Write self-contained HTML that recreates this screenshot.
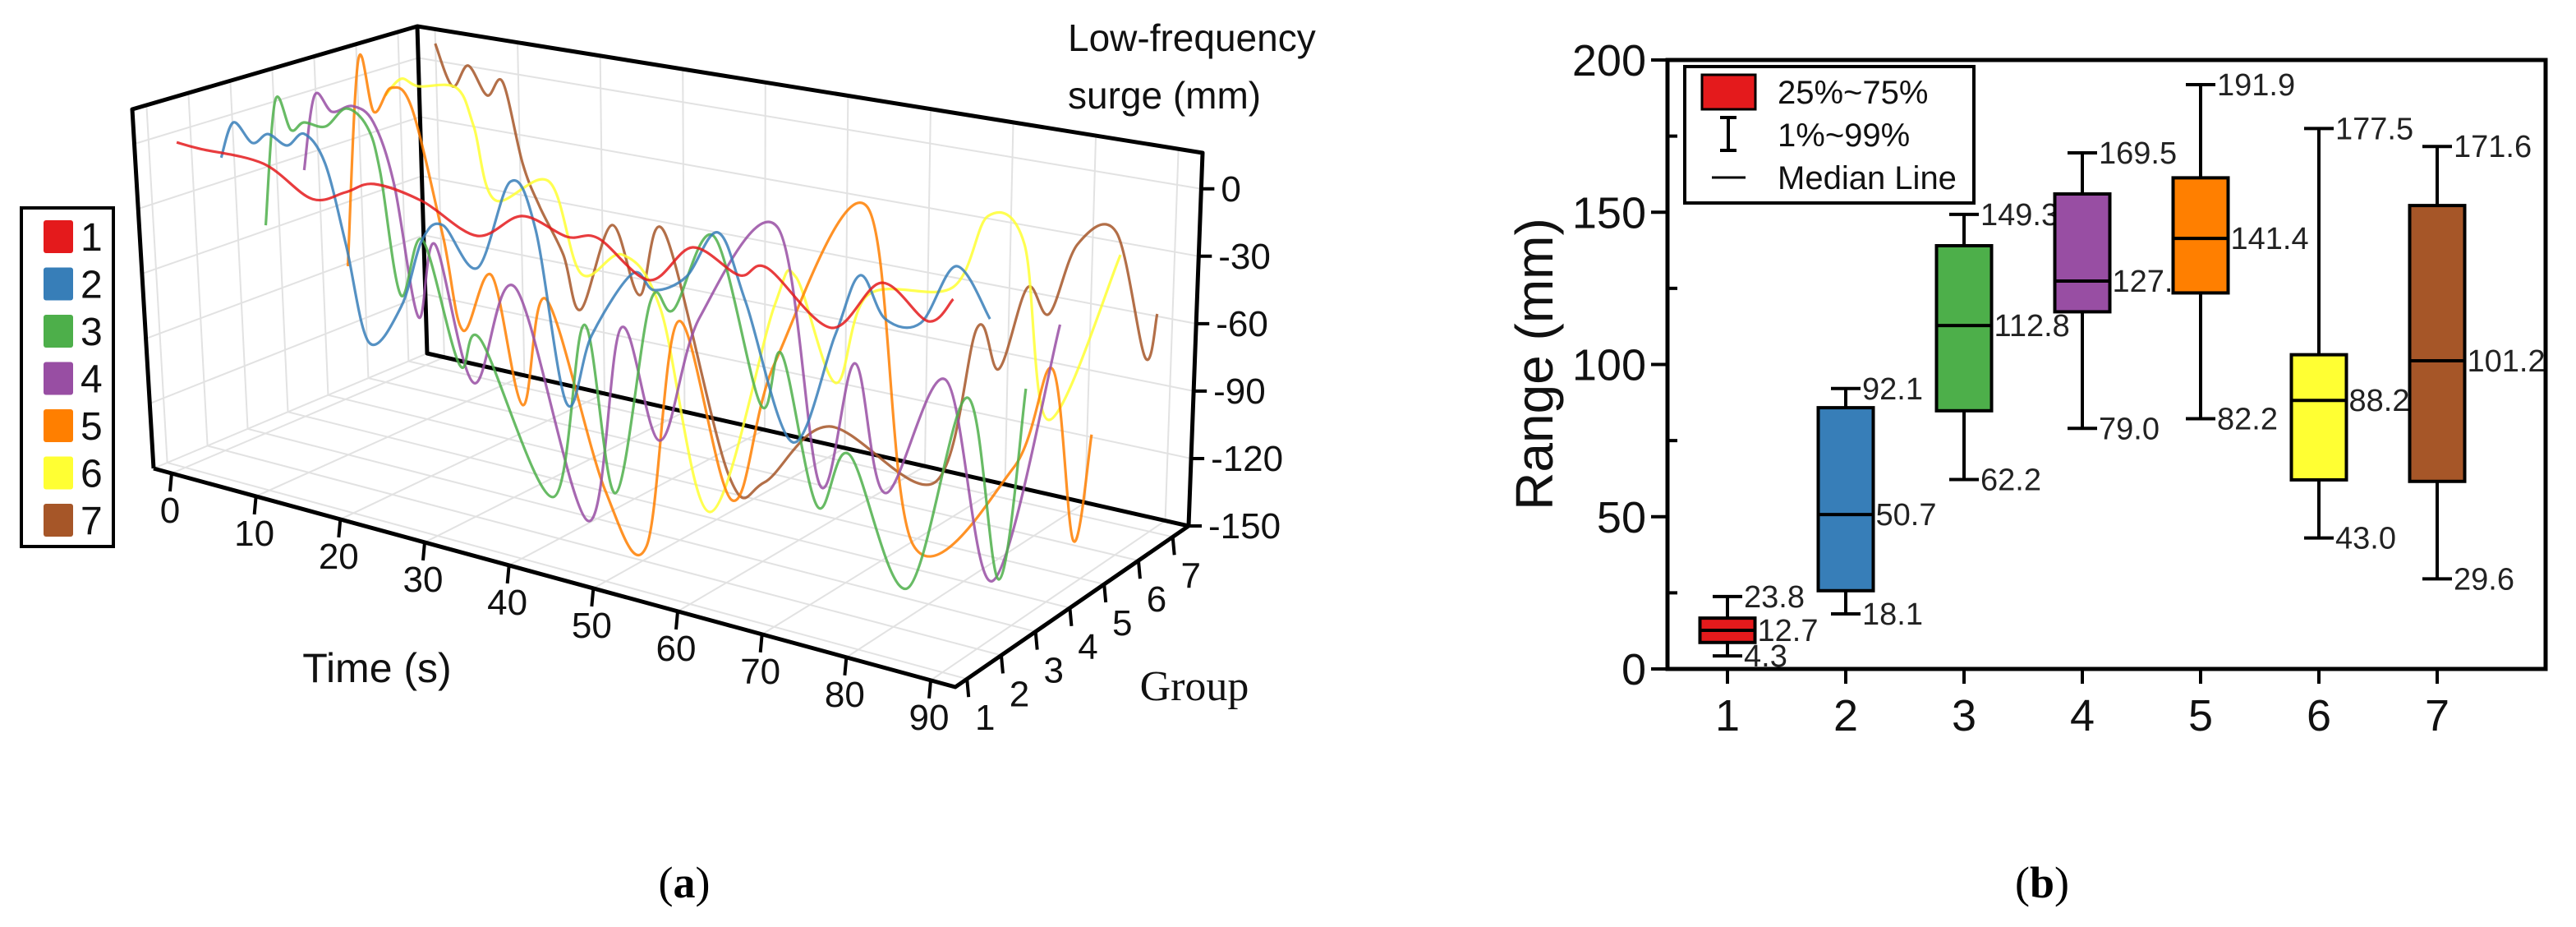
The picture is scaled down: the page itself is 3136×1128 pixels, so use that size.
<!DOCTYPE html>
<html><head><meta charset="utf-8">
<style>
html,body{margin:0;padding:0;background:#fff;}
svg{display:block;font-family:"Liberation Sans",sans-serif;}
</style></head>
<body>
<svg id="fig" width="3136" height="1128" viewBox="0 0 3136 1128" xmlns="http://www.w3.org/2000/svg">
<g id="panelA"></g>
<g id="panelB"></g>
<text x="833" y="1092" font-family="Liberation Serif,serif" font-size="54" text-anchor="middle">(<tspan font-weight="bold">a</tspan>)</text>
<text x="2486" y="1092" font-family="Liberation Serif,serif" font-size="54" text-anchor="middle">(<tspan font-weight="bold">b</tspan>)</text>
</svg>
<script>
// ===== Panel (a) data: time (s) and low-frequency surge (mm) per group =====
const times1=[0.1,2.8,10.1,15.7,19.6,22.9,28.5,34.8,40.0,45.2,48.8,54.7,59.7,65.1,68.3,75.7,81.5,86.9,89.8];
const vals1=[0,-0.7,-1.4,-12.5,-6.5,-0.2,-3.4,-13.6,-0.7,-5.7,-3.5,-17.3,1.2,-6.8,-1,-21.6,3,-9.7,2.4];
const times2=[0.5,1.9,4.1,5.9,8.1,10.1,12.5,14.9,17.6,21.3,23.7,26.1,30.1,33.9,36.8,40.4,43.3,48.0,50.5,54.2,57.9,61.1,66.5,71.4,74.3,77.2,81.3,85.4,89.3];
const vals2=[-10.1,6.6,-0.7,4.7,1.4,8.1,-3.1,-36.8,-78.3,-59.3,-28,-19.5,-35.2,6,-12.7,-86.9,-54.4,-23.4,-28.7,-19.9,2.7,-25.7,-83.2,-32,-3.1,-20.1,-18.6,9.8,-10.4];
const times3=[0.9,2,3.8,5.3,7.8,10.2,12.6,14.1,16.5,19,23.3,25.7,34.1,37.7,41.3,45.3,48,52.7,58.1,60.5,64.6,68.3,75,81.9,85.6,88.7];
const vals3=[-43.3,12.9,1.2,5.7,5.9,15.8,9.7,-8.7,-61.7,-35.3,-87.2,-74,-137,-57.9,-129.5,-41.9,-43,-6.9,-77.2,-52.7,-116.7,-90.8,-144.7,-54.8,-132.3,-45.4];
const times4=[0.6,1.8,3.8,6.2,8.6,11,13.8,15.7,20.2,25,33.4,37.2,41.7,46.3,55.3,60.2,64.2,67.7,74.7,80.1,87.9];
const vals4=[-22.8,11.3,5.6,10,4.7,-21,-77.3,-43.5,-101.3,-55.3,-151.8,-63.3,-109.6,-51.3,-4.5,-114.8,-57.4,-112,-56.3,-141,-21.3];
const times5=[0.9,2.1,3.9,5.9,8.3,11.9,14.2,17.5,21.1,23.8,30.6,35.4,39.1,45.3,50.2,60.9,66.2,77.8,82.3,84.7,86.8];
const vals5=[-68.7,23.5,2,14.2,7,-46.8,-86.5,-59.5,-114,-65,-143.9,-165,-62.5,-136.8,-72.2,5.5,-139.8,-96.3,-49.1,-123.2,-74.5];
const times6=[0.5,2.3,4.3,8.7,10.7,13.1,19.4,23.1,27.9,32.3,38,45.4,47.9,52.5,56.2,66,70.1,74.3,77.1,85.4];
const vals6=[2.9,11.7,10,12.8,-2.7,-33.2,-20.1,-57.9,-45.7,-66.5,-151.4,-54.6,-39.5,-82.7,-40.9,-29.7,5.2,-3.8,-79.4,0.3];
const times7=[1.5,3.5,5.3,7.5,9.3,11.6,13.6,16.3,18.3,21.9,25.1,28,35.4,39.5,47,59.2,64.1,66.6,69.9,72.4,75.7,80.2,83.5,84.9];
const vals7=[23,5.7,16.3,4.9,12.2,-22,-39.7,-58.6,-81.3,-41,-69.4,-39.4,-140.8,-140.8,-110,-125,-52.7,-68.9,-30.3,-39.9,-6.4,2.3,-50.3,-29.9];
const groupColors=["#e41a1c","#377eb8","#4daf4a","#984ea3","#ff7f00","#ffff33","#a65628"];
const timeTicks=[0,10,20,30,40,50,60,70,80,90];
const groupTicks=[1,2,3,4,5,6,7];
const surgeTicks=[0,-30,-60,-90,-120,-150];

// ===== Panel (b) data =====
const boxCats=[1,2,3,4,5,6,7];
const boxQ1=[8.7,25.7,84.8,117.3,123.5,62.1,61.6];
const boxQ3=[16.7,85.8,139.0,156.0,161.3,103.2,152.2];
const boxMed=[12.7,50.7,112.8,127.4,141.4,88.2,101.2];
const boxLo=[4.3,18.1,62.2,79.0,82.2,43.0,29.6];
const boxHi=[23.8,92.1,149.3,169.5,191.9,177.5,171.6];
const boxYTicks=[0,50,100,150,200];

const NS="http://www.w3.org/2000/svg";
function mk(parent,tag,attrs,text){const e=document.createElementNS(NS,tag);for(const k in attrs)e.setAttribute(k,attrs[k]);if(text!==undefined)e.textContent=text;parent.appendChild(e);return e;}

// ----- Panel A geometry -----
const A=document.getElementById('panelA');
const F0=[187,570],F1=[1163,836],B1=[1447,640],B0=[520,430];
const TL=[161,133],BTL=[508,32],BTR=[1464,186];
function lerp(p,q,f){return [p[0]+(q[0]-p[0])*f,p[1]+(q[1]-p[1])*f];}
function floorPt(u,v){return lerp(lerp(F0,F1,u),lerp(B0,B1,u),v);}
function backPt(u,h){return lerp(lerp(B0,B1,u),lerp(BTL,BTR,u),h);}
function leftPt(v,h){return lerp(lerp(F0,B0,v),lerp(TL,BTL,v),h);}
function tU(t){return 0.0225+t*0.01052;}
function gV(g){return 0.05+(g-1)*0.147;}
function zH(z){return (z+150)/166;}
const grid=mk(A,'g',{stroke:'#e2e2e2','stroke-width':2,fill:'none'});


timeTicks.forEach(t=>{const u=tU(t);
  let a=floorPt(u,0),b=floorPt(u,1),c=backPt(u,1);
  mk(grid,'polyline',{points:a+' '+b+' '+c});});
groupTicks.forEach(g=>{const v=gV(g);
  let a=floorPt(1,v),b=floorPt(0,v),c=leftPt(v,1);
  mk(grid,'polyline',{points:a+' '+b+' '+c});});
surgeTicks.forEach(z=>{const h=zH(z);
  let a=leftPt(0,h),b=leftPt(1,h),c=backPt(1,h);
  mk(grid,'polyline',{points:a+' '+b+' '+c});});
// box edges
const edges=mk(A,'g',{stroke:'#000','stroke-width':5,fill:'none','stroke-linejoin':'round'});


mk(edges,'polyline',{points:[F0,TL,BTL,BTR,[1447,640]].join(' ')});
mk(edges,'polyline',{points:[BTL,B0,B1].join(' ')});
mk(edges,'polyline',{points:[F0,F1,B1].join(' ')});

// series
function proj(t,g,z){return [214+10.54*t+50*(g-1),173-10*(g-1)+2.2*t-2.75*z];}
function smooth(pts){let d='M'+pts[0][0].toFixed(1)+','+pts[0][1].toFixed(1);
  for(let i=0;i<pts.length-1;i++){const p0=pts[i-1]||pts[i],p1=pts[i],p2=pts[i+1],p3=pts[i+2]||p2;
    const c1=[p1[0]+(p2[0]-p0[0])/6,p1[1]+(p2[1]-p0[1])/6],c2=[p2[0]-(p3[0]-p1[0])/6,p2[1]-(p3[1]-p1[1])/6];
    d+=' C'+c1[0].toFixed(1)+','+c1[1].toFixed(1)+' '+c2[0].toFixed(1)+','+c2[1].toFixed(1)+' '+p2[0].toFixed(1)+','+p2[1].toFixed(1);}
  return d;}
const allT=[times1,times2,times3,times4,times5,times6,times7];
const allV=[vals1,vals2,vals3,vals4,vals5,vals6,vals7];
for(let s=6;s>=0;s--){
  const pts=allT[s].map((t,i)=>proj(t,s+1,allV[s][i]));
  const p=mk(A,'path',{d:smooth(pts),fill:'none',stroke:groupColors[s],'stroke-width':3.2,'stroke-opacity':0.85});
  
  
}
// time axis ticks
const tax=mk(A,'g',{'font-size':44,fill:'#111'});


timeTicks.forEach(t=>{const p=floorPt(tU(t),0);
  mk(tax,'line',{x1:p[0],y1:p[1],x2:p[0]-2,y2:p[1]+22,stroke:'#000','stroke-width':4});
  const l=mk(tax,'text',{x:p[0]-2,y:p[1]+60,'text-anchor':'middle'},String(t));
  
  });
const tt=mk(A,'text',{x:459,y:830,'font-size':50,'text-anchor':'middle',fill:'#111'},'Time (s)');


// group axis
const gax=mk(A,'g',{'font-size':44,fill:'#111'});


groupTicks.forEach(g=>{const p=floorPt(1,gV(g));
  mk(gax,'line',{x1:p[0],y1:p[1],x2:p[0]+2,y2:p[1]+22,stroke:'#000','stroke-width':4});
  const l=mk(gax,'text',{x:p[0]+22,y:p[1]+62,'text-anchor':'middle'},String(g));
  
  });
const gt=mk(A,'text',{x:1454,y:852,'font-size':52,'text-anchor':'middle','font-family':'Liberation Serif,serif',fill:'#111'},'Group');


// surge axis
const zax=mk(A,'g',{'font-size':44,fill:'#111'});


surgeTicks.forEach(z=>{const p=backPt(1,zH(z));
  mk(zax,'line',{x1:p[0],y1:p[1],x2:p[0]+16,y2:p[1],stroke:'#000','stroke-width':4});
  const l=mk(zax,'text',{x:p[0]+24,y:p[1]+15},String(z));
  
  });
const zt1=mk(A,'text',{x:1300,y:62,'font-size':46,fill:'#111'},'Low-frequency');


const zt2=mk(A,'text',{x:1300,y:132,'font-size':46,fill:'#111'},'surge (mm)');


// legend
const lg=mk(A,'g',{});


mk(lg,'rect',{x:26,y:253,width:112,height:412,fill:'#fff',stroke:'#000','stroke-width':4});
groupTicks.forEach((g,i)=>{const y=288+i*57.5;
  const sw=mk(lg,'rect',{x:53,y:y-20,width:36,height:40,fill:groupColors[i],rx:3});
  
  
  const l=mk(lg,'text',{x:98,y:y+17,'font-size':48,fill:'#111'},String(g));
  
  });

// ----- Panel B -----
const B=document.getElementById('panelB');
const L=2030,R=3099,T=73,BOT=814;
function bx(c){return 2103+(c-1)*144;}
function by(v){return BOT-v*3.705;}
const fr=mk(B,'rect',{x:L,y:T,width:R-L,height:BOT-T,fill:'none',stroke:'#000','stroke-width':5});


const yax=mk(B,'g',{'font-size':54,fill:'#111'});


boxYTicks.forEach(v=>{mk(yax,'line',{x1:L-20,y1:by(v),x2:L,y2:by(v),stroke:'#000','stroke-width':4});
  const l=mk(yax,'text',{x:L-26,y:by(v)+19,'text-anchor':'end'},String(v));
  
  });
for(let i=0;i<boxYTicks.length-1;i++){const v=(boxYTicks[i]+boxYTicks[i+1])/2;
  mk(yax,'line',{x1:L,y1:by(v),x2:L+12,y2:by(v),stroke:'#000','stroke-width':4});}
const yt=mk(B,'text',{x:0,y:0,'font-size':64,'text-anchor':'middle',fill:'#111',transform:'translate(1890,443) rotate(-90)'},'Range (mm)');


const xax=mk(B,'g',{'font-size':54,fill:'#111'});


boxCats.forEach(c=>{mk(xax,'line',{x1:bx(c),y1:BOT,x2:bx(c),y2:BOT+18,stroke:'#000','stroke-width':4});
  const l=mk(xax,'text',{x:bx(c),y:889,'text-anchor':'middle'},String(c));
  
  });
const boxes=mk(B,'g',{});


boxCats.forEach((c,i)=>{const x=bx(c),hw=33.5,cw=18;
  const g=mk(boxes,'g',{stroke:'#000','stroke-width':4});
  
  
  mk(g,'line',{x1:x,y1:by(boxHi[i]),x2:x,y2:by(boxLo[i])});
  mk(g,'line',{x1:x-cw,y1:by(boxHi[i]),x2:x+cw,y2:by(boxHi[i])});
  mk(g,'line',{x1:x-cw,y1:by(boxLo[i]),x2:x+cw,y2:by(boxLo[i])});
  mk(g,'rect',{x:x-hw,y:by(boxQ3[i]),width:2*hw,height:by(boxQ1[i])-by(boxQ3[i]),fill:groupColors[i]});
  mk(g,'line',{x1:x-hw,y1:by(boxMed[i]),x2:x+hw,y2:by(boxMed[i])});
  const tl=[[x+cw+2,by(boxHi[i]),boxHi[i]],[x+hw+3,by(boxMed[i]),boxMed[i]],[x+cw+2,by(boxLo[i]),boxLo[i]]];
  tl.forEach(a=>{const l=mk(boxes,'text',{x:a[0],y:a[1]+13,'font-size':38,fill:'#222'},a[2].toFixed(1));
    
    });
});
// legend
const bl=mk(B,'g',{});


mk(bl,'rect',{x:2051,y:81,width:352,height:166,fill:'#fff',stroke:'#000','stroke-width':4});
mk(bl,'rect',{x:2072,y:91,width:65,height:42,fill:'#e41a1c',stroke:'#000','stroke-width':3});
mk(bl,'line',{x1:2104,y1:143,x2:2104,y2:183,stroke:'#000','stroke-width':4});
mk(bl,'line',{x1:2094,y1:143,x2:2114,y2:143,stroke:'#000','stroke-width':4});
mk(bl,'line',{x1:2094,y1:183,x2:2114,y2:183,stroke:'#000','stroke-width':4});
mk(bl,'line',{x1:2084,y1:216,x2:2125,y2:216,stroke:'#000','stroke-width':3});
[['25%~75%',126],['1%~99%',178],['Median Line',230]].forEach(a=>{
  const l=mk(bl,'text',{x:2164,y:a[1],'font-size':40,fill:'#111'},a[0]);
  
  });
</script>
</body></html>
